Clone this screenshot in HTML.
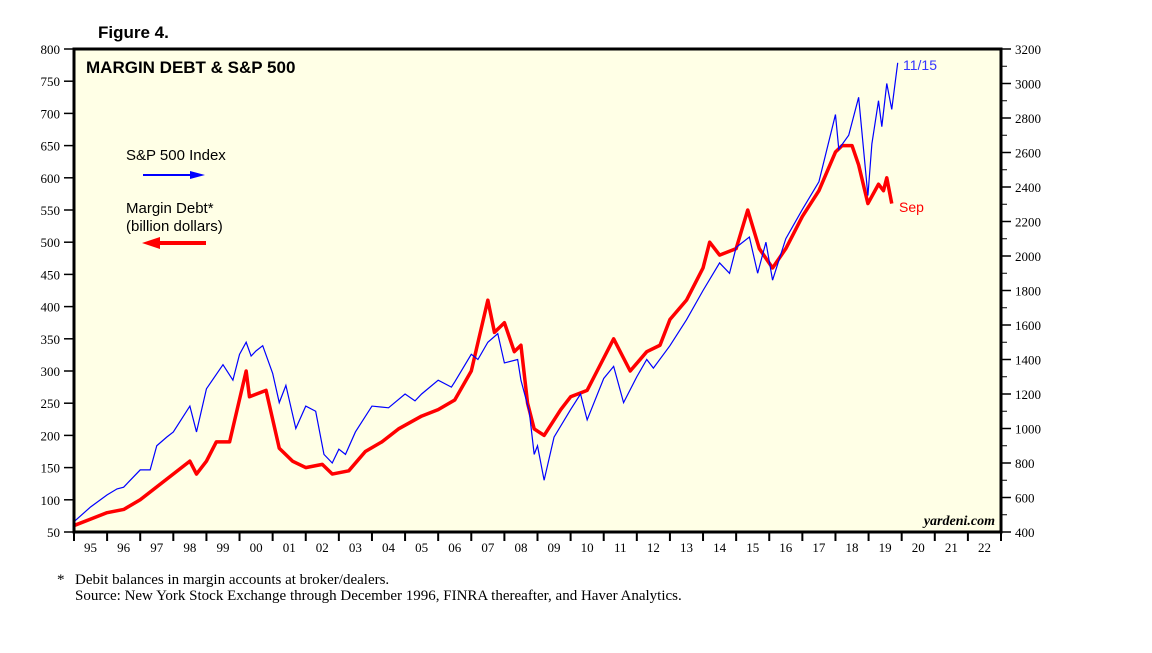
<!DOCTYPE html>
<html><head><meta charset="utf-8"><style>
body{margin:0;background:#fff;width:1152px;height:648px;overflow:hidden}
svg{font-family:"Liberation Sans",sans-serif}
</style></head><body>
<svg id="c" width="1152" height="648">
<text x="98" y="38" font-size="17" font-weight="bold">Figure 4.</text>
<rect x="74" y="49" width="927" height="483" fill="#ffffe6"/>
<g id="marks"></g>
<rect x="74" y="49" width="927" height="483" fill="none" stroke="#000" stroke-width="3"/>
<text x="86" y="73" font-size="17" font-weight="bold">MARGIN DEBT &amp; S&amp;P 500</text>
<text x="126" y="160" font-size="15">S&amp;P 500 Index</text>
<g><line x1="143" y1="175" x2="195" y2="175" stroke="#00f" stroke-width="2"/><polygon points="205,175 190,171 190,179" fill="#00f"/></g>
<text x="126" y="213" font-size="15">Margin Debt*</text>
<text x="126" y="231" font-size="15">(billion dollars)</text>
<g><line x1="155" y1="243" x2="206" y2="243" stroke="#f00" stroke-width="4"/><polygon points="142,243 160,237 160,249" fill="#f00"/></g>
<text x="903" y="70" font-size="14" fill="#33f">11/15</text>
<text x="899" y="212" font-size="14" fill="#f00">Sep</text>
<text x="995" y="525" font-size="14" font-weight="bold" font-style="italic" text-anchor="end" font-family="Liberation Serif,serif">yardeni.com</text>
<text x="57" y="584" font-size="15" font-family="Liberation Serif,serif">*</text>
<text x="75" y="584" font-size="15" font-family="Liberation Serif,serif">Debit balances in margin accounts at broker/dealers.</text>
<text x="75" y="600" font-size="15" font-family="Liberation Serif,serif">Source: New York Stock Exchange through December 1996, FINRA thereafter, and Haver Analytics.</text>
<g id="axes"></g>
</svg>
<script>
const yearLabels=["95","96","97","98","99","00","01","02","03","04","05","06","07","08","09","10","11","12","13","14","15","16","17","18","19","20","21","22"];
const leftTicks=[50,100,150,200,250,300,350,400,450,500,550,600,650,700,750,800];
const rightTicks=[400,600,800,1000,1200,1400,1600,1800,2000,2200,2400,2600,2800,3000,3200];
const spDates=[1995.0,1995.5,1996.0,1996.3,1996.5,1997.0,1997.3,1997.5,1997.8,1998.0,1998.5,1998.7,1999.0,1999.5,1999.8,2000.0,2000.2,2000.35,2000.5,2000.7,2001.0,2001.2,2001.4,2001.7,2002.0,2002.3,2002.55,2002.8,2003.0,2003.2,2003.5,2004.0,2004.5,2005.0,2005.3,2005.5,2006.0,2006.4,2006.5,2007.0,2007.2,2007.5,2007.8,2008.0,2008.4,2008.5,2008.75,2008.9,2009.0,2009.2,2009.5,2010.0,2010.3,2010.5,2011.0,2011.3,2011.6,2012.0,2012.3,2012.5,2013.0,2013.5,2014.0,2014.5,2014.8,2015.0,2015.4,2015.65,2015.9,2016.1,2016.5,2017.0,2017.5,2018.0,2018.1,2018.4,2018.7,2018.98,2019.1,2019.3,2019.4,2019.55,2019.7,2019.88];
const spValues=[460,545,615,650,660,760,760,900,950,980,1130,980,1230,1370,1280,1430,1500,1420,1450,1480,1320,1150,1250,1000,1130,1100,850,800,880,850,980,1130,1120,1200,1160,1200,1280,1240,1270,1430,1400,1500,1550,1380,1400,1280,1100,850,900,700,950,1110,1200,1050,1290,1360,1150,1300,1400,1350,1480,1630,1800,1960,1900,2050,2110,1900,2080,1860,2100,2270,2430,2820,2620,2700,2920,2350,2650,2900,2750,3000,2850,3120];
const mdDates=[1995.0,1995.5,1996.0,1996.5,1997.0,1997.5,1998.0,1998.5,1998.7,1999.0,1999.3,1999.7,2000.2,2000.3,2000.8,2001.2,2001.6,2002.0,2002.5,2002.8,2003.3,2003.8,2004.3,2004.8,2005.5,2006.0,2006.5,2007.0,2007.5,2007.7,2008.0,2008.3,2008.5,2008.7,2008.9,2009.2,2009.7,2010.0,2010.5,2010.8,2011.3,2011.6,2011.8,2012.3,2012.7,2013.0,2013.5,2014.0,2014.2,2014.5,2015.0,2015.35,2015.7,2016.1,2016.5,2017.0,2017.5,2018.0,2018.2,2018.5,2018.7,2018.98,2019.3,2019.45,2019.55,2019.7];
const mdValues=[60,70,80,85,100,120,140,160,140,160,190,190,300,260,270,180,160,150,155,140,145,175,190,210,230,240,255,300,410,360,375,330,340,250,210,200,240,260,270,300,350,320,300,330,340,380,410,460,500,480,490,550,490,460,490,540,580,640,650,650,620,560,590,580,600,560];
const X0=74,X1=1001,YT=49,YB=532;
const xs=d=>X0+(d-1995)/28*(X1-X0);
const yl=v=>YB-(v-50)/750*(YB-YT);
const yr=v=>YB-(v-400)/2800*(YB-YT);
const NS="http://www.w3.org/2000/svg";
function mk(t,a,p){const e=document.createElementNS(NS,t);for(const k in a)e.setAttribute(k,a[k]);(p||document.getElementById('axes')).appendChild(e);return e;}
const marks=document.getElementById('marks');
const mdLine=mk('polyline',{points:mdDates.map((d,i)=>xs(d)+','+yl(mdValues[i])).join(' '),fill:'none',stroke:'#f00','stroke-width':3.5,'stroke-linejoin':'round'},marks);


const spLine=mk('polyline',{points:spDates.map((d,i)=>xs(d)+','+yr(spValues[i])).join(' '),fill:'none',stroke:'#00f','stroke-width':1.2},marks);


leftTicks.forEach(v=>{const y=yl(v);
 const t=mk('line',{x1:64,x2:74,y1:y,y2:y,stroke:'#000','stroke-width':1.5});
 
 
 const l=mk('text',{x:60,y:y+5,'font-size':13,'text-anchor':'end','font-family':'Liberation Serif,serif'});l.textContent=v;
 
 });
rightTicks.forEach((v,i)=>{const y=yr(v);
 const t=mk('line',{x1:1001,x2:1011,y1:y,y2:y,stroke:'#000','stroke-width':1.5});
 
 
 if(i<rightTicks.length-1){const m=mk('line',{x1:1001,x2:1007,y1:yr(v+100),y2:yr(v+100),stroke:'#000','stroke-width':1});
 
 }
 const l=mk('text',{x:1015,y:y+5,'font-size':13,'font-family':'Liberation Serif,serif'});l.textContent=v;
 
 });
yearLabels.forEach((s,i)=>{const x=xs(1995+i);
 const t=mk('line',{x1:x,x2:x,y1:532,y2:541,stroke:'#000','stroke-width':2});
 
 
 const l=mk('text',{x:xs(1995.5+i),y:552,'font-size':13,'text-anchor':'middle','font-family':'Liberation Serif,serif'});l.textContent=s;
 
 });
const e=mk('line',{x1:X1,x2:X1,y1:532,y2:541,stroke:'#000','stroke-width':2});


</script>
</body></html>
